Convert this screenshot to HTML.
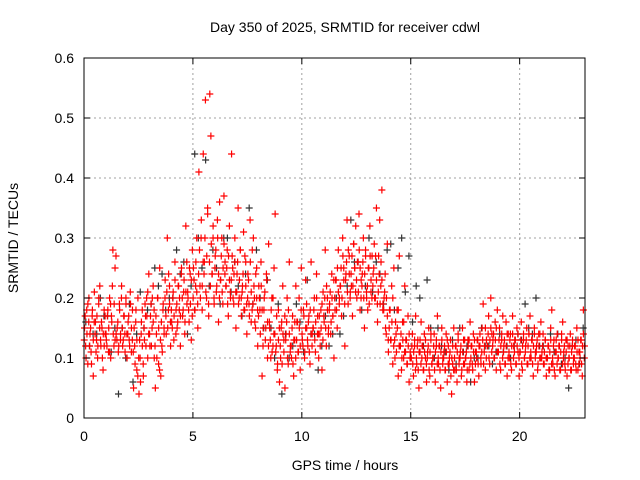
<!DOCTYPE html>
<html><head><meta charset="utf-8">
<style>
body{margin:0;background:#fff;}
svg{display:block;font-family:"Liberation Sans",sans-serif;}
</style></head><body>
<svg id="chart" width="640" height="480" viewBox="0 0 640 480" xmlns="http://www.w3.org/2000/svg">
<rect width="640" height="480" fill="#fff"/>
<text x="345" y="32" font-size="14" text-anchor="middle">Day 350 of 2025, SRMTID for receiver cdwl</text>
<text x="345" y="470" font-size="14" text-anchor="middle">GPS time / hours</text>
<text transform="translate(18,238) rotate(-90)" font-size="14" text-anchor="middle">SRMTID / TECUs</text>
<g id="grid"></g>
<g id="marks"></g>
<g id="axes"></g>
</svg>
<script>
const xTicks=[0,5,10,15,20];
const yTicks=[0,0.1,0.2,0.3,0.4,0.5,0.6];
const yTickLabels=["0","0.1","0.2","0.3","0.4","0.5","0.6"];
const binHours=0.25;
// red series: estimated values per quarter-hour bin starting at 0h
const redBins=[
[.15,.12,.18,.09,.2],[.14,.11,.17,.07,.21],[.16,.13,.1,.19,.22],[.12,.15,.08,.18,.14],
[.13,.17,.11,.2,.1],[.16,.28,.12,.25,.14],[.15,.11,.19,.13,.22],[.12,.17,.14,.2,.1],
[.16,.13,.21,.11,.18],[.05,.12,.16,.08,.2],[.04,.1,.14,.18,.07],[.13,.17,.2,.1,.24],
[.12,.19,.15,.22,.1],[.05,.14,.2,.09,.25],[.07,.12,.18,.15,.23],[.14,.3,.18,.22,.12],
[.16,.2,.13,.26,.18],[.15,.22,.18,.12,.25],[.17,.21,.14,.32,.19],[.2,.16,.24,.13,.28],
[.25,.18,.22,.3,.15],[.41,.22,.3,.18,.44],[.26,.53,.2,.35,.17],[.54,.47,.24,.3,.19],
[.27,.21,.33,.16,.36],[.23,.3,.19,.37,.26],[.22,.28,.17,.32,.2],[.44,.25,.19,.3,.15],
[.24,.35,.2,.28,.17],[.22,.31,.18,.26,.14],[.24,.19,.33,.16,.28],[.3,.2,.15,.25,.12],
[.22,.18,.26,.07,.15],[.2,.13,.24,.1,.29],[.15,.1,.2,.12,.25],[.34,.12,.08,.18,.06],
[.1,.16,.22,.13,.05],[.14,.2,.09,.26,.12],[.1,.17,.07,.13,.22],[.16,.11,.2,.08,.25],
[.13,.18,.1,.23,.15],[.12,.17,.09,.26,.14],[.15,.2,.11,.24,.17],[.1,.14,.18,.08,.21],
[.16,.28,.12,.2,.15],[.19,.14,.24,.17,.1],[.18,.23,.15,.28,.2],[.22,.17,.3,.25,.12],
[.24,.33,.19,.27,.21],[.22,.17,.29,.25,.32],[.2,.26,.34,.18,.23],[.24,.3,.15,.28,.2],
[.18,.25,.32,.21,.27],[.24,.29,.2,.35,.16],[.27,.33,.22,.38,.19],[.2,.24,.14,.29,.11],
[.18,.13,.22,.09,.25],[.1,.14,.18,.07,.27],[.12,.08,.16,.1,.22],[.13,.09,.17,.06,.11],
[.1,.14,.07,.12,.17],[.09,.13,.05,.11,.16],[.12,.08,.14,.1,.06],[.11,.15,.07,.13,.09],
[.1,.14,.06,.12,.17],[.09,.12,.05,.15,.1],[.11,.08,.14,.06,.12],[.1,.13,.04,.09,.15],
[.08,.12,.06,.14,.1],[.11,.07,.15,.09,.13],[.1,.06,.13,.08,.16],[.12,.09,.14,.06,.11],
[.1,.13,.07,.12,.09],[.15,.19,.11,.08,.13],[.12,.17,.09,.2,.14],[.13,.1,.16,.08,.18],
[.11,.15,.08,.13,.17],[.12,.09,.16,.07,.14],[.1,.14,.08,.17,.12],[.13,.09,.15,.11,.07],
[.11,.16,.08,.13,.1],[.12,.15,.09,.14,.17],[.1,.13,.07,.15,.11],[.12,.08,.14,.1,.16],
[.11,.14,.09,.13,.07],[.1,.12,.08,.15,.18],[.09,.13,.07,.11,.14],[.1,.12,.08,.14,.16],
[.11,.09,.13,.07,.12],[.1,.14,.08,.12,.1],[.12,.09,.15,.08,.11],[.1,.13,.07,.18,.12]
];
// second pass of red estimates (6 per bin) to reproduce the density
const redBins2=[
[.13,.17,.1,.14,.19,.16],[.12,.15,.09,.18,.13,.16],[.14,.11,.17,.12,.2,.15],[.13,.16,.1,.14,.12,.17],
[.14,.12,.18,.15,.11,.19],[.17,.22,.14,.19,.13,.27],[.13,.16,.12,.18,.14,.2],[.15,.13,.17,.11,.19,.14],
[.14,.17,.12,.19,.15,.13],[.11,.15,.09,.18,.13,.07],[.1,.13,.06,.16,.12,.09],[.15,.19,.12,.17,.21,.14],
[.14,.17,.12,.2,.16,.18],[.12,.17,.1,.2,.15,.08],[.13,.16,.11,.19,.14,.2],[.17,.21,.15,.24,.19,.16],
[.18,.15,.21,.17,.23,.14],[.19,.16,.22,.2,.17,.24],[.2,.18,.23,.16,.21,.26],[.21,.18,.25,.19,.23,.17],
[.2,.23,.18,.26,.21,.19],[.24,.28,.2,.33,.22,.26],[.24,.3,.21,.27,.34,.19],[.26,.22,.29,.24,.32,.2],
[.25,.28,.22,.3,.24,.2],[.23,.27,.21,.25,.29,.24],[.22,.25,.19,.27,.23,.21],[.23,.27,.2,.24,.26,.21],
[.21,.26,.19,.23,.28,.2],[.21,.24,.18,.27,.22,.19],[.2,.23,.17,.26,.21,.18],[.19,.22,.16,.24,.2,.18],
[.17,.2,.14,.22,.18,.12],[.18,.21,.15,.23,.16,.12],[.16,.13,.18,.11,.2,.14],[.14,.11,.17,.09,.13,.15],
[.12,.15,.09,.14,.11,.17],[.13,.16,.1,.18,.14,.11],[.12,.15,.09,.13,.16,.1],[.13,.16,.11,.15,.12,.18],
[.14,.12,.17,.11,.15,.19],[.13,.16,.11,.18,.14,.12],[.15,.18,.13,.16,.2,.14],[.14,.17,.12,.15,.19,.13],
[.17,.2,.15,.22,.18,.14],[.18,.21,.16,.2,.17,.23],[.2,.23,.18,.25,.21,.19],[.22,.25,.2,.27,.23,.19],
[.23,.26,.21,.28,.24,.2],[.24,.27,.22,.29,.25,.21],[.23,.26,.21,.28,.25,.2],[.22,.26,.2,.24,.27,.21],
[.22,.25,.19,.27,.23,.2],[.22,.25,.2,.27,.23,.19],[.21,.24,.19,.26,.23,.18],[.18,.21,.15,.2,.17,.13],
[.15,.18,.13,.16,.2,.12],[.13,.16,.11,.15,.18,.12],[.12,.14,.1,.13,.16,.11],[.11,.13,.09,.12,.14,.1],
[.1,.12,.09,.11,.13,.08],[.1,.12,.08,.11,.13,.09],[.1,.12,.08,.11,.13,.09],[.1,.12,.08,.11,.14,.09],
[.1,.12,.08,.11,.13,.09],[.1,.12,.08,.11,.13,.09],[.1,.12,.08,.11,.13,.09],[.09,.11,.07,.1,.12,.08],
[.1,.12,.08,.11,.13,.09],[.1,.12,.08,.11,.13,.09],[.1,.11,.08,.12,.13,.09],[.1,.12,.08,.11,.13,.09],
[.11,.13,.09,.12,.14,.1],[.11,.13,.09,.12,.15,.1],[.12,.14,.1,.13,.15,.11],[.12,.14,.1,.13,.15,.11],
[.11,.13,.09,.12,.14,.1],[.11,.13,.09,.12,.14,.1],[.11,.13,.09,.12,.14,.1],[.11,.13,.09,.12,.14,.1],
[.11,.13,.09,.12,.14,.1],[.11,.13,.09,.12,.14,.1],[.11,.13,.09,.12,.14,.1],[.11,.13,.09,.12,.14,.1],
[.1,.12,.09,.11,.13,.1],[.1,.12,.08,.11,.13,.09],[.1,.12,.08,.11,.13,.09],[.1,.12,.08,.11,.13,.09],
[.1,.12,.08,.11,.13,.09],[.1,.12,.08,.11,.13,.09],[.1,.12,.08,.11,.13,.09],[.11,.13,.09,.12,.14,.1]
];
// black series: estimated values per half-hour bin starting at 0h
const blackHalfHour=0.5;
const blackBins=[
[.16,.12,.14],[.14,.2,.17],[.17,.11,.15],[.04,.15,.1],[.19,.06,.14],[.21,.15,.18],[.19,.25,.22],[.24,.18,.2],
[.2,.28,.24],[.26,.14,.22],[.44,.3,.25],[.43,.22,.28],[.25,.19,.3],[.3,.21,.26],[.22,.17,.24],[.35,.19,.28],
[.2,.15,.23],[.15,.1,.19],[.04,.14,.1],[.12,.19,.16],[.11,.23,.14],[.14,.08,.12],[.17,.12,.14],[.2,.14,.17],
[.22,.33,.26],[.26,.18,.22],[.3,.21,.26],[.24,.19,.28],[.29,.18,.25],[.3,.21,.27],[.16,.22,.2],[.12,.23,.15],
[.1,.15,.12],[.11,.08,.13],[.09,.15,.11],[.12,.06,.1],[.1,.15,.12],[.12,.09,.11],[.14,.11,.12],[.1,.12,.14],
[.13,.19,.15],[.14,.2,.12],[.12,.1,.14],[.11,.14,.09],[.1,.05,.12],[.13,.09,.15]
];
const ns="http://www.w3.org/2000/svg";
const L=84,R=585,T=58,B=418,xMax=23,yMax=0.6;
const sx=v=>L+v/xMax*(R-L);
const sy=v=>B-v/yMax*(B-T);
const grid=document.getElementById('grid'),marks=document.getElementById('marks'),axes=document.getElementById('axes');
function mk(tag,attrs,parent){const e=document.createElementNS(ns,tag);for(const k in attrs)e.setAttribute(k,attrs[k]);parent.appendChild(e);return e;}
yTicks.forEach((t,i)=>{
  const y=sy(t);
  if(i>0&&i<yTicks.length-1){const g=mk('line',{x1:L,x2:R,y1:y,y2:y,stroke:'#a0a0a0','stroke-dasharray':'2,3'},grid);
  
  }
  mk('line',{x1:L,x2:L+6,y1:y,y2:y,stroke:'#000'},axes);
  mk('line',{x1:R,x2:R-6,y1:y,y2:y,stroke:'#000'},axes);
  const tx=mk('text',{x:L-10,y:y+5,'font-size':14,'text-anchor':'end'},axes);
  tx.textContent=yTickLabels[i];
  
  
});
xTicks.forEach(t=>{
  const x=sx(t);
  if(t>0){const g=mk('line',{x1:x,x2:x,y1:T,y2:B,stroke:'#a0a0a0','stroke-dasharray':'2,3'},grid);
  
  }
  mk('line',{x1:x,x2:x,y1:B,y2:B-6,stroke:'#000'},axes);
  mk('line',{x1:x,x2:x,y1:T,y2:T+6,stroke:'#000'},axes);
  const tx=mk('text',{x:x,y:B+23,'font-size':14,'text-anchor':'middle'},axes);
  tx.textContent=String(t);
  
  
});
const frame=mk('rect',{x:L,y:T,width:R-L,height:B-T,fill:'none',stroke:'#000'},axes);


function cross(t,v,color,name){
  const x=sx(t),y=sy(v);
  const p=mk('path',{d:`M${x-3.5} ${y}h7M${x} ${y-3.5}v7`,stroke:color,'stroke-width':1.2,fill:'none'},marks);
  
  
}
blackBins.forEach((vals,i)=>vals.forEach((v,j)=>cross(i*blackHalfHour+(j+0.5)*blackHalfHour/vals.length,v,'#333','black-point')));
redBins.forEach((vals,i)=>vals.forEach((v,j)=>cross(i*binHours+(j+0.5)*binHours/vals.length,v,'#ff0000','red-point')));
redBins2.forEach((vals,i)=>vals.forEach((v,j)=>cross(i*binHours+(j+0.25)*binHours/vals.length,v,'#ff0000','red-point')));
</script>
</body></html>
